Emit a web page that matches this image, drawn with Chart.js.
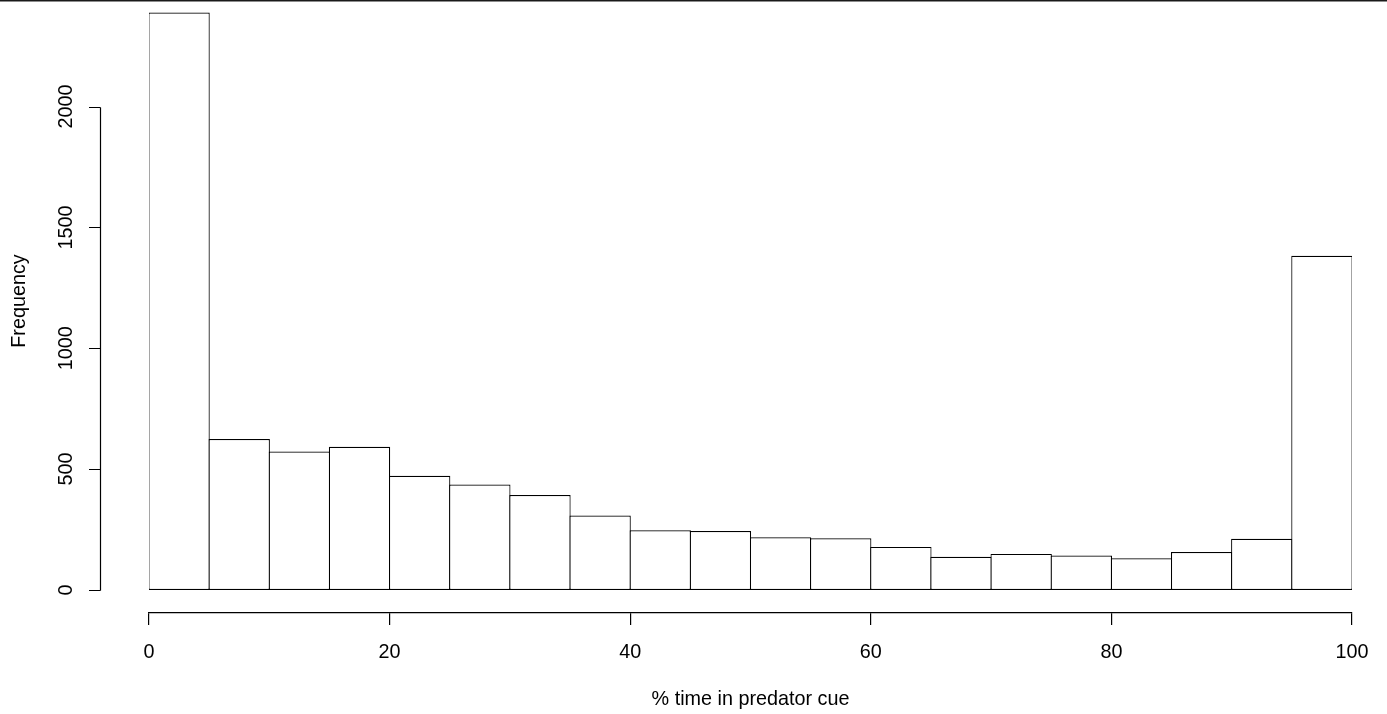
<!DOCTYPE html>
<html>
<head>
<meta charset="utf-8">
<script src="https://cdn.jsdelivr.net/npm/chart.js@4"></script>
<style>
html,body{margin:0;padding:0;background:#fff;overflow:hidden}
canvas{display:block}
</style>
</head>
<body>
<canvas id="c" width="1387" height="714" style="width:1387px;height:714px"></canvas>
<script>
// ---- data ----
const binLabels = ['0-5','5-10','10-15','15-20','20-25','25-30','30-35','35-40','40-45','45-50',
                   '50-55','55-60','60-65','65-70','70-75','75-80','80-85','85-90','90-95','95-100'];
const counts = [2389, 624, 573, 592, 472, 436, 393, 308, 247, 244,
                218, 214, 178, 137, 149, 142, 131, 157, 212, 1383];
const xTickValues = [0, 20, 40, 60, 80, 100];
const yTickValues = [0, 500, 1000, 1500, 2000];
const xTitle = '% time in predator cue';
const yTitle = 'Frequency';

const FONT = '"Liberation Sans", Arial, Helvetica, sans-serif';
const FS = 19.8;

Chart.defaults.font.family = FONT;
Chart.defaults.font.size = FS;
Chart.defaults.color = '#000';

// R-style detached y axis + top frame line
const rAxisY = {
  id: 'rAxisY',
  afterDraw(chart) {
    const ctx = chart.ctx;
    const ys = chart.scales.y;
    const axX = 100.5;
    ctx.save();
    ctx.strokeStyle = '#000';
    ctx.lineWidth = 1.2;
    ctx.beginPath();
    const pFirst = Math.round(ys.getPixelForValue(yTickValues[0])) + 0.5;
    const pLast = Math.round(ys.getPixelForValue(yTickValues[yTickValues.length - 1])) + 0.5;
    ctx.moveTo(axX, pFirst);
    ctx.lineTo(axX, pLast);
    yTickValues.forEach(v => {
      const p = Math.round(ys.getPixelForValue(v)) + 0.5;
      ctx.moveTo(axX, p);
      ctx.lineTo(89, p);
    });
    ctx.stroke();

    ctx.fillStyle = '#000';
    ctx.font = FS + 'px ' + FONT;
    ctx.textAlign = 'center';
    ctx.textBaseline = 'alphabetic';
    yTickValues.forEach(v => {
      const p = ys.getPixelForValue(v);
      ctx.save();
      ctx.translate(72, p);
      ctx.rotate(-Math.PI / 2);
      ctx.fillText(String(v), 0, 0);
      ctx.restore();
    });

    // y axis title
    ctx.save();
    ctx.translate(25, 301);
    ctx.rotate(-Math.PI / 2);
    ctx.fillText(yTitle, 0, 0);
    ctx.restore();

    // top frame line
    ctx.fillStyle = '#1a1a1a';
    ctx.fillRect(0, 0, chart.width, 1.5);
    ctx.restore();
  }
};

new Chart(document.getElementById('c'), {
  type: 'bar',
  data: {
    labels: binLabels,
    datasets: [{
      data: counts,
      xAxisID: 'x',
      yAxisID: 'y',
      backgroundColor: '#ffffff',
      borderColor: '#000000',
      borderWidth: 1.2,
      borderSkipped: false,
      inflateAmount: 0,
      categoryPercentage: 1,
      barPercentage: 1.02
    }]
  },
  options: {
    responsive: false,
    animation: false,
    devicePixelRatio: 1,
    layout: { padding: { left: 149, right: 35, top: 0, bottom: 0 } },
    plugins: { legend: { display: false }, tooltip: { enabled: false }, title: { display: false } },
    scales: {
      x: {
        type: 'category',
        display: false,
        offset: true,
        grid: { display: false }
      },
      xr: {
        type: 'linear',
        position: 'bottom',
        min: 0,
        max: 100,
        offset: false,
        afterBuildTicks: s => { s.ticks = xTickValues.map(v => ({ value: v })); },
        afterFit: s => { s.height = 101; },
        grid: {
          display: true,
          offset: false,
          drawOnChartArea: false,
          drawTicks: true,
          tickLength: 12,
          color: '#000',
          tickColor: '#000',
          lineWidth: 1.2
        },
        border: { display: true, color: '#000', width: 1.2 },
        ticks: {
          color: '#000',
          padding: 16,
          maxRotation: 0,
          autoSkip: false,
          font: { size: FS, family: FONT }
        },
        title: {
          display: true,
          text: xTitle,
          color: '#000',
          font: { size: FS, family: FONT },
          padding: { top: 0, bottom: 3 }
        }
      },
      y: {
        type: 'linear',
        display: false,
        min: -95.5,
        max: 2441
      }
    }
  },
  plugins: [rAxisY]
});
</script>
</body>
</html>
